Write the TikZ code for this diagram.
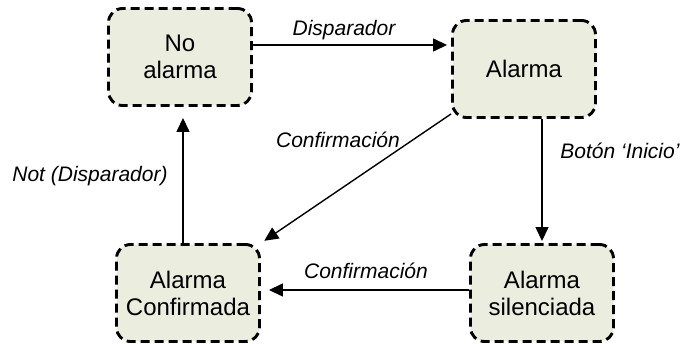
\documentclass[tikz,border=0pt]{standalone}
\usepackage{fontspec}
\setmainfont{Liberation Sans}
\usetikzlibrary{arrows.meta}

\definecolor{statefill}{RGB}{235,238,222}

\begin{document}
\begin{tikzpicture}[x=1pt,y=-1pt,
    state/.style={draw,rounded corners=14pt,fill=statefill,line width=2.9pt,
                  dash pattern=on 9pt off 5pt,minimum width=143pt,minimum height=97pt,
                  align=center,font=\fontsize{24}{27}\selectfont},
    lbl/.style={font=\fontsize{21}{25}\selectfont\itshape,inner sep=0pt},
    arr/.style={line width=1.4pt,-{Triangle[length=14pt,width=13pt]}}]
  \useasboundingbox (0,0) rectangle (683,344);
  \node[state] (na) at (180,57)  {No\\alarma};
  \node[state] (al) at (524,69)  {Alarma};
  \node[state] (co) at (188,293) {Alarma\\Confirmada};
  \node[state] (si) at (542,293) {Alarma\\silenciada};
  \draw[arr,shorten >=4pt] ([yshift=12pt]na.east) -- ([yshift=24pt]al.west);
  \draw[arr,shorten >=2pt] (al.south -| si) -- (si.north);
  \draw[arr,shorten >=4pt] ([yshift=5pt]al.south west) -- (co.north east);
  \draw[arr,shorten >=8pt] ([yshift=3pt]si.west) -- ([yshift=3pt]co.east);
  \draw[arr,shorten >=11pt] ([xshift=-5pt]co.north) -- ([xshift=3pt]na.south);
  \node[lbl] (l1) at (344,30)  {Disparador};
  \node[lbl] (l2) at (338,140) {Confirmación};
  \node[lbl] (l3) at (620,151) {Botón ‘Inicio’};
  \node[lbl] (l4) at (366,271) {Confirmación};
  \node[lbl] (l5) at (90,176)  {Not (Disparador)};
\end{tikzpicture}
\end{document}
